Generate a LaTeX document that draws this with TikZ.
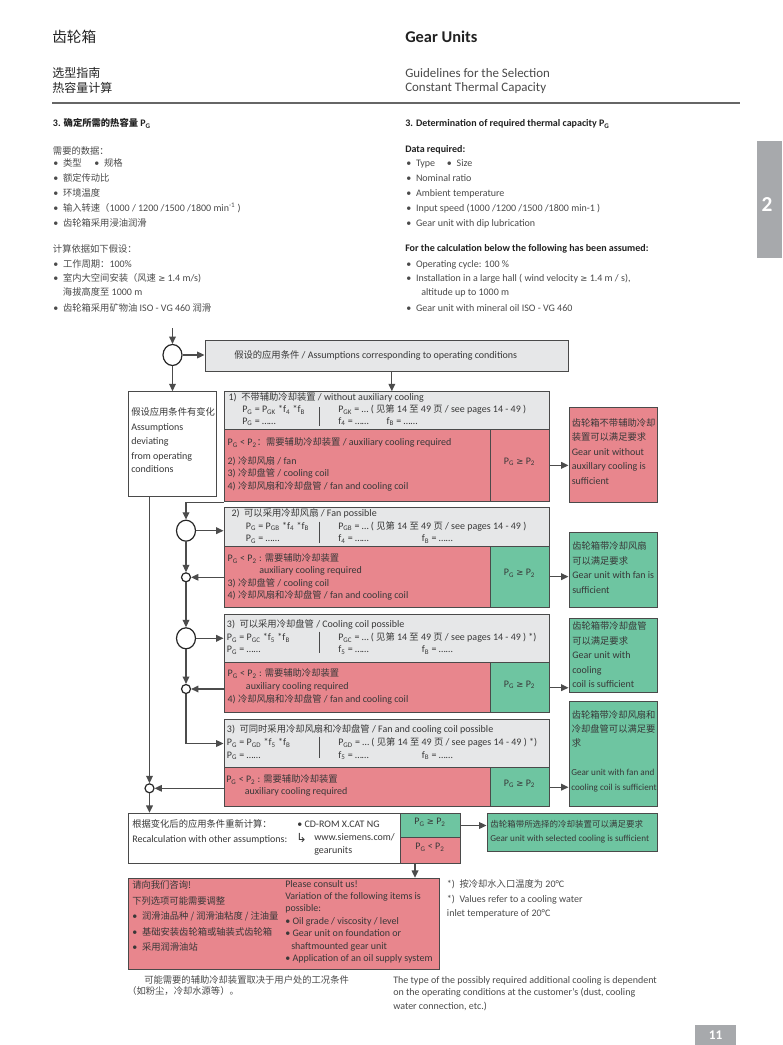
\documentclass[tikz,border=0pt]{standalone}
\usepackage{fontspec}
\setmainfont{Carlito}
\newfontfamily\cjk[Scale=0.93]{Noto Sans CJK SC}
\newfontfamily\cjkhead{Noto Sans CJK SC}
\newfontfamily\symf[Scale=0.85]{DejaVu Sans}
\usetikzlibrary{arrows.meta,shapes.geometric,fit}
\newcommand{\zh}[1]{{\cjk #1}}
\newcommand{\Psub}[1]{P\textsubscript{#1}}
\newcommand{\gex}{{\symf ≥}}
\newcommand{\bul}{\makebox[7.3pt][l]{•}}
\definecolor{txt}{HTML}{383838}
\definecolor{body}{HTML}{4A4A4A}
\definecolor{head}{HTML}{222222}
\definecolor{boxg}{HTML}{E6E7E8}
\definecolor{boxr}{HTML}{E8868D}
\definecolor{boxgr}{HTML}{6EC5A1}
\definecolor{edge}{HTML}{4A4A4A}
\definecolor{tabg}{HTML}{A7A9AC}
\definecolor{rulec}{HTML}{666666}
\begin{document}
\begin{tikzpicture}[x=0.75pt,y=-0.75pt,
  tx/.style={anchor=west, inner sep=0pt, text=txt, font=\fontsize{7.5}{9}\selectfont, text height=5.5pt, text depth=1.5pt},
  txs/.style={tx, font=\fontsize{6.85}{9}\selectfont},
  bt/.style={tx, text=body},
  gbox/.style={draw=edge, fill=boxg, line width=0.75pt, inner sep=0pt},
  rbox/.style={draw=edge, fill=boxr, line width=0.75pt, inner sep=0pt, text=txt, font=\fontsize{7.5}{9}\selectfont},
  grbox/.style={draw=edge, fill=boxgr, line width=0.75pt, inner sep=0pt, text=txt, font=\fontsize{7.5}{9}\selectfont},
  wbox/.style={draw=edge, fill=white, line width=0.75pt, inner sep=0pt},
  ell/.style={ellipse, draw=black!85, line width=0.9pt, fill=white, minimum width=14.25pt, minimum height=15.75pt, inner sep=0pt},
  sml/.style={circle, draw=black!85, line width=0.9pt, fill=white, minimum size=6.75pt, inner sep=0pt},
  arr/.style={draw=black!70, line width=0.9pt, -{Triangle[length=5.5pt,width=5pt]}}
]
\useasboundingbox (0,0) rectangle (782,1045);
\fill[white] (0,0) rectangle (782,1045);

% ---------- header ----------
\node[anchor=west, inner sep=0pt, text=head, font=\fontsize{11}{13}\selectfont\cjkhead] (h1) at (52,37) {齿轮箱};
\node[anchor=west, inner sep=0pt, text=head, font=\fontsize{12.3}{14}\selectfont\bfseries] (h2) at (405,37) {Gear Units};
\node[anchor=west, inner sep=0pt, text=head, font=\fontsize{9}{11}\selectfont\cjkhead] (h3) at (52,72.7) {选型指南};
\node[anchor=west, inner sep=0pt, text=head, font=\fontsize{9}{11}\selectfont\cjkhead] (h4) at (52,88) {热容量计算};
\node[anchor=west, inner sep=0pt, text=body, font=\fontsize{9.7}{11}\selectfont] (h5) at (405,72.7) {Guidelines for the Selection};
\node[anchor=west, inner sep=0pt, text=body, font=\fontsize{9.7}{11}\selectfont] (h6) at (405,88) {Constant Thermal Capacity};
\draw[rulec, line width=0.9pt] (52,103) -- (740,103);

\node[fill=tabg, fit={(757,141)(782,258)}, inner sep=0pt] (tab) {};
\node[text=white, inner sep=0pt, font=\bfseries\fontsize{16}{18}\selectfont] (tabt) at (767,205) {2};
\node[fill=tabg, fit={(695,1025)(736,1045)}, inner sep=0pt] (pn) {};
\node[text=white, inner sep=0pt, font=\bfseries\fontsize{10}{12}\selectfont] (pnt) at (pn) {11};

% ---------- left column ----------
\node[tx, text=head] (l1) at (52.7,124) {\bfseries 3. \zh{确定所需的热容量} P\textsubscript{G}};
\node[bt] (l2) at (52.7,151.7) {\zh{需要的数据：}};
\node[bt] (l3) at (53,164.3) {\bul\zh{类型}};
\node[bt] (l3b) at (94,164.3) {\bul\zh{规格}};
\node[bt] (l4) at (53,179.3) {\bul\zh{额定传动比}};
\node[bt] (l5) at (53,194) {\bul\zh{环境温度}};
\node[bt] (l6) at (53,209) {\bul\zh{输入转速（}1000 / 1200 /1500 /1800 min\textsuperscript{-1} )};
\node[bt] (l7) at (53,224.3) {\bul\zh{齿轮箱采用浸油润滑}};
\node[bt] (l8) at (52.7,250) {\zh{计算依据如下假设：}};
\node[bt] (l9) at (53,265) {\bul\zh{工作周期：}100\%};
\node[bt] (l10) at (53,279) {\bul\zh{室内大空间安装（风速} \gex{} 1.4 m/s)};
\node[bt] (l11) at (62.7,293.3) {\zh{海拔高度至} 1000 m};
\node[bt] (l12) at (53,309) {\bul\zh{齿轮箱采用矿物油} ISO - VG 460 \zh{润滑}};

% ---------- right column ----------
\node[tx, text=head] (r1) at (405,124) {\bfseries 3. Determination of required thermal capacity P\textsubscript{G}};
\node[tx, text=head] (r2) at (405,150) {\bfseries Data required:};
\node[bt] (r3) at (406,164) {\bul Type};
\node[bt] (r3b) at (446.7,164) {\bul Size};
\node[bt] (r4) at (406,179) {\bul Nominal ratio};
\node[bt] (r5) at (406,194) {\bul Ambient temperature};
\node[bt] (r6) at (406,209) {\bul Input speed (1000 /1200 /1500 /1800 min-1 )};
\node[bt] (r7) at (406,224) {\bul Gear unit with dip lubrication};
\node[tx, text=head] (r8) at (405,249.3) {\bfseries For the calculation below the following has been assumed:};
\node[bt] (r9) at (406,265) {\bul Operating cycle: 100 \%};
\node[bt] (r10) at (406,279) {\bul Installation in a large hall ( wind velocity \gex{} 1.4 m / s),};
\node[bt] (r11) at (421,293.3) {altitude up to 1000 m};
\node[bt] (r12) at (406,309) {\bul Gear unit with mineral oil ISO - VG 460};

% ---------- boxes ----------
\node[gbox, fit={(205,340)(568,371)}] (g0) {};
\node[wbox, fit={(128,391.7)(216.6,496.7)}] (wb) {};

\node[gbox, fit={(224,391.7)(549,429)}] (b1g) {};
\node[rbox, fit={(224,429)(490,501.7)}] (b1r) {};
\node[rbox, fit={(490,429)(549,501.7)}] (b1c) {\Psub{G} \gex{} \Psub{2}};
\node[rbox, fit={(569,407.7)(657,502)}] (rb1) {};

\node[gbox, fit={(224,507.3)(549,546)}] (b2g) {};
\node[rbox, fit={(224,546)(490,607.3)}] (b2r) {};
\node[grbox, fit={(490,546)(549,607.3)}] (b2c) {\Psub{G} \gex{} \Psub{2}};
\node[grbox, fit={(569,532.3)(657,607.3)}] (gb2) {};

\node[gbox, fit={(224,614)(549,662.7)}] (b3g) {};
\node[rbox, fit={(224,662.7)(490,712.7)}] (b3r) {};
\node[grbox, fit={(490,662.7)(549,712.7)}] (b3c) {\Psub{G} \gex{} \Psub{2}};
\node[grbox, fit={(569,618.3)(657,692.7)}] (gb3) {};

\node[gbox, fit={(224,719.3)(549,767.7)}] (b4g) {};
\node[rbox, fit={(224,767.7)(490,806.7)}] (b4r) {};
\node[grbox, fit={(490,767.7)(549,806.7)}] (b4c) {\Psub{G} \gex{} \Psub{2}};
\node[grbox, fit={(569,701.7)(657,806.7)}] (gb4) {};

\node[wbox, fit={(128,813.3)(400,863.3)}] (rc) {};
\node[grbox, fit={(400,813.3)(460,837.7)}] (rcg) {\Psub{G} \gex{} \Psub{2}};
\node[rbox, fit={(400,837.7)(460,863.3)}] (rcr) {\Psub{G} < \Psub{2}};
\node[grbox, fit={(487,813.3)(657,851.7)}] (gb5) {};

\node[rbox, fit={(128,878.3)(439.5,969.3)}] (cb) {};

% separators in grey parts
\draw[edge, line width=0.75pt] (319.3,407) -- (319.3,426);
\draw[edge, line width=0.75pt] (319.3,521.7) -- (319.3,542.7);
\draw[edge, line width=0.75pt] (319.3,631.7) -- (319.3,653.3);
\draw[edge, line width=0.75pt] (319.3,736.7) -- (319.3,758.3);

% ---------- circles ----------
\node[ell] (c1) at (172.5,355) {};
\node[ell] (c2) at (186,530.7) {};
\node[sml] (sc1) at (186,577.3) {};
\node[ell] (c3) at (186,638.3) {};
\node[sml] (sc2) at (186,689) {};
\node[sml] (sc3) at (149.5,788.3) {};
\coordinate (top) at (172.5,328);

% ---------- connectors ----------
\draw[arr] (top) -- (c1);
\draw[arr] (c1) -- (c1 -| g0.west);
\draw[arr] (c1) -- (c1 |- wb.north);
\draw[arr] ([xshift=4pt]g0.south) -- ([xshift=4pt]g0.south |- b1g.north);
\draw[arr] (b1c.east) -- (b1c.east -| rb1.west);
\draw[arr] (b1r.south west) -- (b1r.south west -| c2) -- (c2);
\draw[arr] (c2) -- (c2 -| b2g.west);
\draw[arr] (c2) -- (sc1);
\draw[arr] (b2r.west |- sc1) -- (sc1);
\draw[arr] (b2c.east) -- (b2c.east -| gb2.west);
\draw[arr] (sc1) -- (c3);
\draw[arr] (c3) -- (c3 -| b3g.west);
\draw[arr] (c3) -- (sc2);
\draw[arr] (b3r.west |- sc2) -- (sc2);
\draw[arr] (b3c.east) -- (b3c.east -| gb3.west);
\draw[arr] (sc2) |- (b4g.west);
\draw[arr] (b4r.west |- sc3) -- (sc3);
\draw[arr] (b4c.east) -- (b4c.east -| gb4.west);
\draw[arr] (sc3 |- wb.south) -- (sc3);
\draw[arr] (sc3) -- (sc3 |- rc.north);
\draw[arr] (rcg.east) -- (rcg.east -| gb5.west);
\draw[arr] ([xshift=-11.25pt]rcr.south) -- ([xshift=-11.25pt]rcr.south |- cb.north);

% ---------- flow texts ----------
\node[tx] (g0t) at (234,356) {\zh{假设的应用条件} / Assumptions corresponding to operating conditions};

\node[tx] (w1) at (131,413.3) {\zh{假设应用条件有变化}};
\node[tx] (w2) at (131,427.7) {Assumptions};
\node[tx] (w3) at (131,441.7) {deviating};
\node[tx] (w4) at (131,456.7) {from operating};
\node[tx] (w5) at (131,470) {conditions};

% box 1
\node[tx] (a1) at (228.4,397.7) {1)\ \ \zh{不带辅助冷却装置} / without auxiliary cooling};
\node[tx] (a2) at (242,410) {\Psub{G} = \Psub{GK} *f\textsubscript{4} *f\textsubscript{B}};
\node[tx] (a3) at (242,421.7) {\Psub{G} = ……};
\node[tx] (a4) at (338,410) {\Psub{GK} = … ( \zh{见第} 14 \zh{至} 49 \zh{页} / see pages 14 - 49 )};
\node[tx] (a5) at (338,421.7) {f\textsubscript{4} = ……};
\node[tx] (a6) at (386.4,421.7) {f\textsubscript{B} = ……};
\node[tx] (a7) at (227.4,443.3) {\Psub{G} < \Psub{2}\zh{：需要辅助冷却装置} / auxiliary cooling required};
\node[tx] (a8) at (227.4,461.7) {2) \zh{冷却风扇} / fan};
\node[tx] (a9) at (227.4,474.3) {3) \zh{冷却盘管} / cooling coil};
\node[tx] (a10) at (227.4,486.7) {4) \zh{冷却风扇和冷却盘管} / fan and cooling coil};
\node[tx] (a11) at (571.5,424.3) {\zh{齿轮箱不带辅助冷却}};
\node[tx] (a12) at (571.5,438.3) {\zh{装置可以满足要求}};
\node[tx] (a13) at (571.5,452.7) {Gear unit without};
\node[tx] (a14) at (571.5,466.7) {auxillary cooling is};
\node[tx] (a15) at (571.5,481.7) {sufficient};

% box 2
\node[tx] (b1) at (231.3,514) {2)\ \ \zh{可以采用冷却风扇} / Fan possible};
\node[tx] (b2) at (245.7,526.5) {\Psub{G} = \Psub{GB} *f\textsubscript{4} *f\textsubscript{B}};
\node[tx] (b3) at (245.7,539.3) {\Psub{G} = ……};
\node[tx] (b4) at (338,526.5) {\Psub{GB} = … ( \zh{见第} 14 \zh{至} 49 \zh{页} / see pages 14 - 49 )};
\node[tx] (b5) at (338,539.3) {f\textsubscript{4} = ……};
\node[tx] (b6) at (421.6,539.3) {f\textsubscript{B} = ……};
\node[tx] (b7) at (227.4,559.3) {\Psub{G} < \Psub{2} : \zh{需要辅助冷却装置}};
\node[tx] (b8) at (259,570.7) {auxiliary cooling required};
\node[tx] (b9) at (227.4,584) {3) \zh{冷却盘管} / cooling coil};
\node[tx] (b10) at (227.4,596) {4) \zh{冷却风扇和冷却盘管} / fan and cooling coil};
\node[tx] (b11) at (572,547.3) {\zh{齿轮箱带冷却风扇}};
\node[tx] (b12) at (572,562.3) {\zh{可以满足要求}};
\node[tx] (b13) at (572,576) {Gear unit with fan is};
\node[tx] (b14) at (572,590.7) {sufficient};

% box 3
\node[tx] (d1) at (226.7,625) {3)\ \ \zh{可以采用冷却盘管} / Cooling coil possible};
\node[tx] (d2) at (226.7,638.3) {\Psub{G} = \Psub{GC} *f\textsubscript{5} *f\textsubscript{B}};
\node[tx] (d3) at (226.7,650) {\Psub{G} = ……};
\node[tx] (d4) at (338,638.3) {\Psub{GC} = … ( \zh{见第} 14 \zh{至} 49 \zh{页} / see pages 14 - 49 ) *)};
\node[tx] (d5) at (338,650) {f\textsubscript{5} = ……};
\node[tx] (d6) at (421.6,650) {f\textsubscript{B} = ……};
\node[tx] (d7) at (227.4,674.3) {\Psub{G} < \Psub{2} : \zh{需要辅助冷却装置}};
\node[tx] (d8) at (245.7,687.3) {auxiliary cooling required};
\node[tx] (d9) at (227.4,700) {4) \zh{冷却风扇和冷却盘管} / fan and cooling coil};
\node[tx] (d10) at (572,627.3) {\zh{齿轮箱带冷却盘管}};
\node[tx] (d11) at (572,642.3) {\zh{可以满足要求}};
\node[tx] (d12) at (572,655.7) {Gear unit with};
\node[tx] (d13) at (572,670.7) {cooling};
\node[tx] (d14) at (572,685) {coil is sufficient};

% box 4
\node[tx] (e1) at (226.7,730) {3)\ \ \zh{可同时采用冷却风扇和冷却盘管} / Fan and cooling coil possible};
\node[tx] (e2) at (226.7,743.3) {\Psub{G} = \Psub{GD} *f\textsubscript{5} *f\textsubscript{B}};
\node[tx] (e3) at (226.7,755.7) {\Psub{G} = ……};
\node[tx] (e4) at (338,743.3) {\Psub{GD} = … ( \zh{见第} 14 \zh{至} 49 \zh{页} / see pages 14 - 49 ) *)};
\node[tx] (e5) at (338,755.7) {f\textsubscript{5} = ……};
\node[tx] (e6) at (421.6,755.7) {f\textsubscript{B} = ……};
\node[tx] (e7) at (226,780) {\Psub{G} < \Psub{2} : \zh{需要辅助冷却装置}};
\node[tx] (e8) at (244.6,792.3) {auxiliary cooling required};
\node[tx] (e9) at (571.5,716) {\zh{齿轮箱带冷却风扇和}};
\node[tx] (e10) at (571.5,730) {\zh{冷却盘管可以满足要}};
\node[tx] (e11) at (571.5,744.3) {\zh{求}};
\node[txs] (e12) at (571,773.3) {Gear unit with fan and};
\node[txs] (e13) at (571,787.7) {cooling coil is sufficient};

% recalculation
\node[tx] (f1) at (132,825) {\zh{根据变化后的应用条件重新计算：}};
\node[tx] (f2) at (132,840) {Recalculation with other assumptions:};
\node[tx] (f3) at (297,825) {• CD-ROM X.CAT NG};
\node[tx, font=\fontsize{11}{12}\selectfont] (f4) at (296,839.5) {{\symf ↳}};
\node[tx] (f5) at (314,838.3) {www.siemens.com/};
\node[tx] (f6) at (314,850.7) {gearunits};
\node[txs] (f7) at (490,825) {\zh{齿轮箱带所选择的冷却装置可以满足要求}};
\node[txs] (f8) at (490,839.3) {Gear unit with selected cooling is sufficient};

% consult box
\node[tx] (k1) at (132,886) {\zh{请向我们咨询!}};
\node[tx] (k2) at (132,902.3) {\zh{下列选项可能需要调整}};
\node[tx] (k3) at (132,917.3) {\bul\zh{润滑油品种 / 润滑油粘度 / 注油量}};
\node[tx] (k4) at (132,933.3) {\bul\zh{基础安装齿轮箱或轴装式齿轮箱}};
\node[tx] (k5) at (132,948.3) {\bul\zh{采用润滑油站}};
\node[tx] (k6) at (285,885) {Please consult us!};
\node[tx] (k7) at (285,897.3) {Variation of the following items is};
\node[tx] (k8) at (285,909.3) {possible:};
\node[tx] (k9) at (285,921.7) {• Oil grade / viscosity / level};
\node[tx] (k10) at (285,934.3) {• Gear unit on foundation or};
\node[tx] (k11) at (291,946.7) {shaftmounted gear unit};
\node[tx] (k12) at (285,959.3) {• Application of an oil supply system};

% footnotes
\node[bt] (n1) at (446.7,885) {*)\ \ \zh{按冷却水入口温度为} 20°C};
\node[bt] (n2) at (446.7,900) {*)\ \ Values refer to a cooling water};
\node[bt] (n3) at (446.7,914) {inlet temperature of 20°C};

% bottom notes
\node[bt] (m1) at (144,981) {\zh{可能需要的辅助冷却装置取决于用户处的工况条件}};
\node[bt] (m2) at (127,991.7) {\zh{（如粉尘，冷却水源等）。}};
\node[bt] (m3) at (393,981) {The type of the possibly required additional cooling is dependent};
\node[bt] (m4) at (393,993.3) {on the operating conditions at the customer's (dust, cooling};
\node[bt] (m5) at (393,1006.7) {water connection, etc.)};
\end{tikzpicture}
\end{document}
